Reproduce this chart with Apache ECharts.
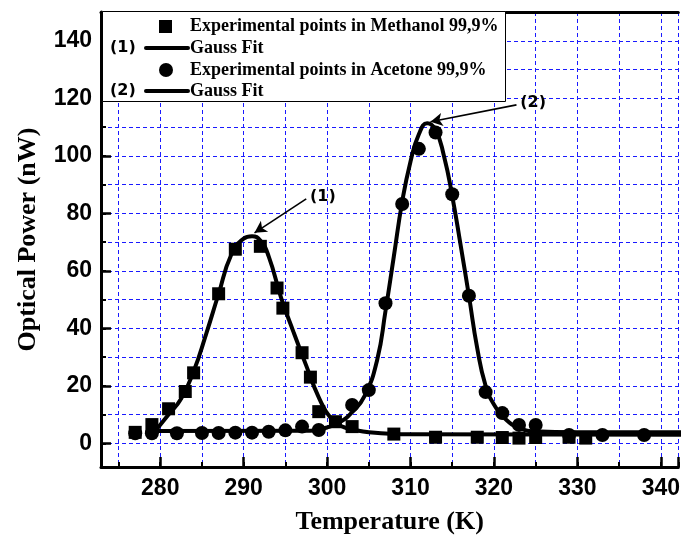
<!DOCTYPE html>
<html>
<head>
<meta charset="utf-8">
<script src="https://cdn.jsdelivr.net/npm/echarts@6/dist/echarts.min.js"></script>
<style>html,body{margin:0;padding:0;background:#fff;}#c{width:683px;height:550px;}</style>
</head>
<body>
<div id="c"></div>
<script>
// Experimental points
const tempMethanol = [277,279,281,283,284,287,289,292,294,294.7,297,298,299,301,303,308,313,318,321,323,325,329,331];
const powerMethanol = [3.8,6.5,12,18,24.5,52,67.5,68.5,54,47,31.5,23,11,7.5,5.8,3.2,2.1,2.1,2.0,1.8,2.0,2.1,1.8];
const tempAcetone = [277,279,282,285,287,289,291,293,295,297,299,303,305,307,309,311,313,315,317,319,321,323,325,329,333,338];
const powerAcetone = [3.5,3.5,3.5,3.6,3.6,3.7,3.7,4.0,4.5,5.8,4.6,13.3,18.5,48.7,83.2,102.4,108.1,86.6,51.3,17.8,10.5,6.4,6.4,2.9,2.9,2.9];
// Gauss fit curves
const fitTemp1 = [279.5,281,282.5,284,285.5,287,288.5,290,291,292,293,294.5,296,297.5,299,300.5,302,303.5,305,307,310,343];
const fitPower1 = [4.6,10,15.5,25,38,52,65.5,71.2,72,70.5,65,50.5,38.5,27,16,8.5,5.6,4.5,3.8,3.4,3.1,3.0];
const fitTemp2 = [279.5,298,300,301.5,303,304.5,306,307,308,309,310,311,312,313,314,315,316,317,318,319,320,321.5,323,324.7,330,343];
const fitPower2 = [4.3,4.4,5.5,7.3,10.8,16.5,29,46,65,84,98,107.5,111.3,109,100,86,69,51.3,33,20,13.5,8.1,5.4,4.2,3.8,3.8];
// Axis settings
const xMin = 272.9, xMax = 342.1, yMin = -8.25, yMax = 150;
const xTickLabels = [280,290,300,310,320,330,340];
const yTickLabels = [0,20,40,60,80,100,120,140];
// Annotations: [x, y] of label and arrow start/end in data units
const annot1 = {label:'(1)', at:[299.5,85.7], from:[297.5,85.0], to:[291.3,73.2]};
const annot2 = {label:'(2)', at:[324.7,118.4], from:[322.7,117.7], to:[312.4,111.8]};

const zip = (a,b) => a.map((v,i)=>[v,b[i]]);
const gridBlue = '#1a1aff';
const serif = 'Liberation Serif';
const sans = 'Liberation Sans';

const chart = echarts.init(document.getElementById('c'), null, {renderer:'canvas'});
const gridL = 101, gridT = 12, gridR = 0, gridB = 83;

function labelFmt(list){ return v => list.some(t => Math.abs(t - v) < 1e-6) ? String(Math.round(v)) : ''; }

const legendFont = 'bold 18px "Liberation Serif"';
const tagFont = 'bold 16px "DejaVu Sans"';
const Z = 100;

const option = {
  animation:false,
  backgroundColor:'#fff',
  grid:{left:gridL, top:gridT, right:gridR, bottom:gridB, containLabel:false},
  xAxis:[
    {type:'value', min:xMin, max:xMax, minInterval:5, maxInterval:5, position:'bottom',
     axisLine:{show:true, onZero:false, lineStyle:{color:'#000', width:3}},
     axisTick:{show:true, inside:true, length:5, lineStyle:{color:'#000', width:2}},
     axisLabel:{show:false},
     splitLine:{show:true, lineStyle:{color:gridBlue, width:1, type:[4,3]}}},
    {type:'value', min:xMin, max:xMax, minInterval:10, maxInterval:10, position:'bottom',
     axisLine:{show:false, onZero:false},
     axisTick:{show:true, inside:true, length:10, lineStyle:{color:'#000', width:2.5}},
     axisLabel:{show:true, margin:10, color:'#000', fontFamily:sans, fontWeight:'bold', fontSize:23, formatter:labelFmt(xTickLabels)},
     splitLine:{show:false},
     name:'Temperature (K)', nameLocation:'middle', nameGap:42,
     nameTextStyle:{color:'#000', fontFamily:serif, fontWeight:'bold', fontSize:26}},
    {type:'value', min:xMin, max:xMax, position:'top',
     axisLine:{show:true, onZero:false, lineStyle:{color:'#000', width:3}},
     axisTick:{show:false}, axisLabel:{show:false}, splitLine:{show:false}}
  ],
  yAxis:[
    {type:'value', min:yMin, max:yMax, minInterval:10, maxInterval:10, position:'left',
     axisLine:{show:true, onZero:false, lineStyle:{color:'#000', width:3}},
     axisTick:{show:true, inside:true, length:5, lineStyle:{color:'#000', width:2}},
     axisLabel:{show:false},
     splitLine:{show:true, lineStyle:{color:gridBlue, width:1, type:[4,3]}}},
    {type:'value', min:yMin, max:yMax, minInterval:20, maxInterval:20, position:'left',
     axisLine:{show:false, onZero:false},
     axisTick:{show:true, inside:true, length:10, lineStyle:{color:'#000', width:2.5}},
     axisLabel:{show:true, margin:9, color:'#000', fontFamily:sans, fontWeight:'bold', fontSize:23, formatter:labelFmt(yTickLabels)},
     splitLine:{show:false},
     name:'Optical Power (nW)', nameLocation:'middle', nameGap:60,
     nameTextStyle:{color:'#000', fontFamily:serif, fontWeight:'bold', fontSize:26}}
  ],
  series:[
    {name:'Gauss Fit (1)', type:'line', xAxisIndex:0, yAxisIndex:0, data:zip(fitTemp1, fitPower1),
     showSymbol:false, smooth:0.5, lineStyle:{color:'#000', width:4}, z:3,
     markLine:{silent:true, symbol:['none','arrow'], symbolSize:[10,12],
       lineStyle:{color:'#000', width:1.6, type:'solid'}, label:{show:false},
       data:[[{coord:annot1.from},{coord:annot1.to}]]},
     markPoint:{silent:true, symbol:'circle', symbolSize:0,
       label:{show:true, position:'inside', formatter:annot1.label, color:'#000', fontFamily:'DejaVu Sans', fontWeight:'bold', fontSize:16},
       data:[{coord:annot1.at}]}},
    {name:'Gauss Fit (2)', type:'line', xAxisIndex:0, yAxisIndex:0, data:zip(fitTemp2, fitPower2),
     showSymbol:false, smooth:0.5, lineStyle:{color:'#000', width:4}, z:3,
     markLine:{silent:true, symbol:['none','arrow'], symbolSize:[10,12],
       lineStyle:{color:'#000', width:1.6, type:'solid'}, label:{show:false},
       data:[[{coord:annot2.from},{coord:annot2.to}]]},
     markPoint:{silent:true, symbol:'circle', symbolSize:0,
       label:{show:true, position:'inside', formatter:annot2.label, color:'#000', fontFamily:'DejaVu Sans', fontWeight:'bold', fontSize:16},
       data:[{coord:annot2.at}]}},
    {name:'Experimental points in Acetone 99,9%', type:'scatter', xAxisIndex:0, yAxisIndex:0,
     data:zip(tempAcetone, powerAcetone), symbol:'circle', symbolSize:14, itemStyle:{color:'#000', opacity:1}, z:4},
    {name:'Experimental points in Methanol 99,9%', type:'scatter', xAxisIndex:0, yAxisIndex:0,
     data:zip(tempMethanol, powerMethanol), symbol:'rect', symbolSize:13, itemStyle:{color:'#000', opacity:1}, z:5}
  ],
  graphic:[
    {type:'rect', z:Z, left:gridL + 1, top:gridT - 1, shape:{width:403, height:90}, style:{fill:'#fff', stroke:'#000', lineWidth:1}},
    {type:'rect', z:Z+1, x:gridL + 58, y:gridT + 8, shape:{width:13, height:13}, style:{fill:'#000'}},
    {type:'text', z:Z+1, x:gridL + 89, y:gridT + 14, style:{text:'Experimental points in Methanol 99,9%', fill:'#000', font:legendFont, verticalAlign:'middle', align:'left'}},
    {type:'text', z:Z+1, x:gridL + 9, y:gridT + 36, style:{text:'(1)', fill:'#000', font:tagFont, verticalAlign:'middle', align:'left'}},
    {type:'line', z:Z+1, shape:{x1:gridL + 45, y1:gridT + 36, x2:gridL + 87, y2:gridT + 36}, style:{stroke:'#000', lineWidth:4, lineCap:'round'}},
    {type:'text', z:Z+1, x:gridL + 89, y:gridT + 36, style:{text:'Gauss Fit', fill:'#000', font:legendFont, verticalAlign:'middle', align:'left'}},
    {type:'circle', z:Z+1, shape:{cx:gridL + 65, cy:gridT + 58, r:7}, style:{fill:'#000'}},
    {type:'text', z:Z+1, x:gridL + 89, y:gridT + 58, style:{text:'Experimental points in Acetone 99,9%', fill:'#000', font:legendFont, verticalAlign:'middle', align:'left'}},
    {type:'text', z:Z+1, x:gridL + 9, y:gridT + 79, style:{text:'(2)', fill:'#000', font:tagFont, verticalAlign:'middle', align:'left'}},
    {type:'line', z:Z+1, shape:{x1:gridL + 45, y1:gridT + 79, x2:gridL + 87, y2:gridT + 79}, style:{stroke:'#000', lineWidth:4, lineCap:'round'}},
    {type:'text', z:Z+1, x:gridL + 89, y:gridT + 79, style:{text:'Gauss Fit', fill:'#000', font:legendFont, verticalAlign:'middle', align:'left'}}
  ]
};
chart.setOption(option);
</script>
</body>
</html>
